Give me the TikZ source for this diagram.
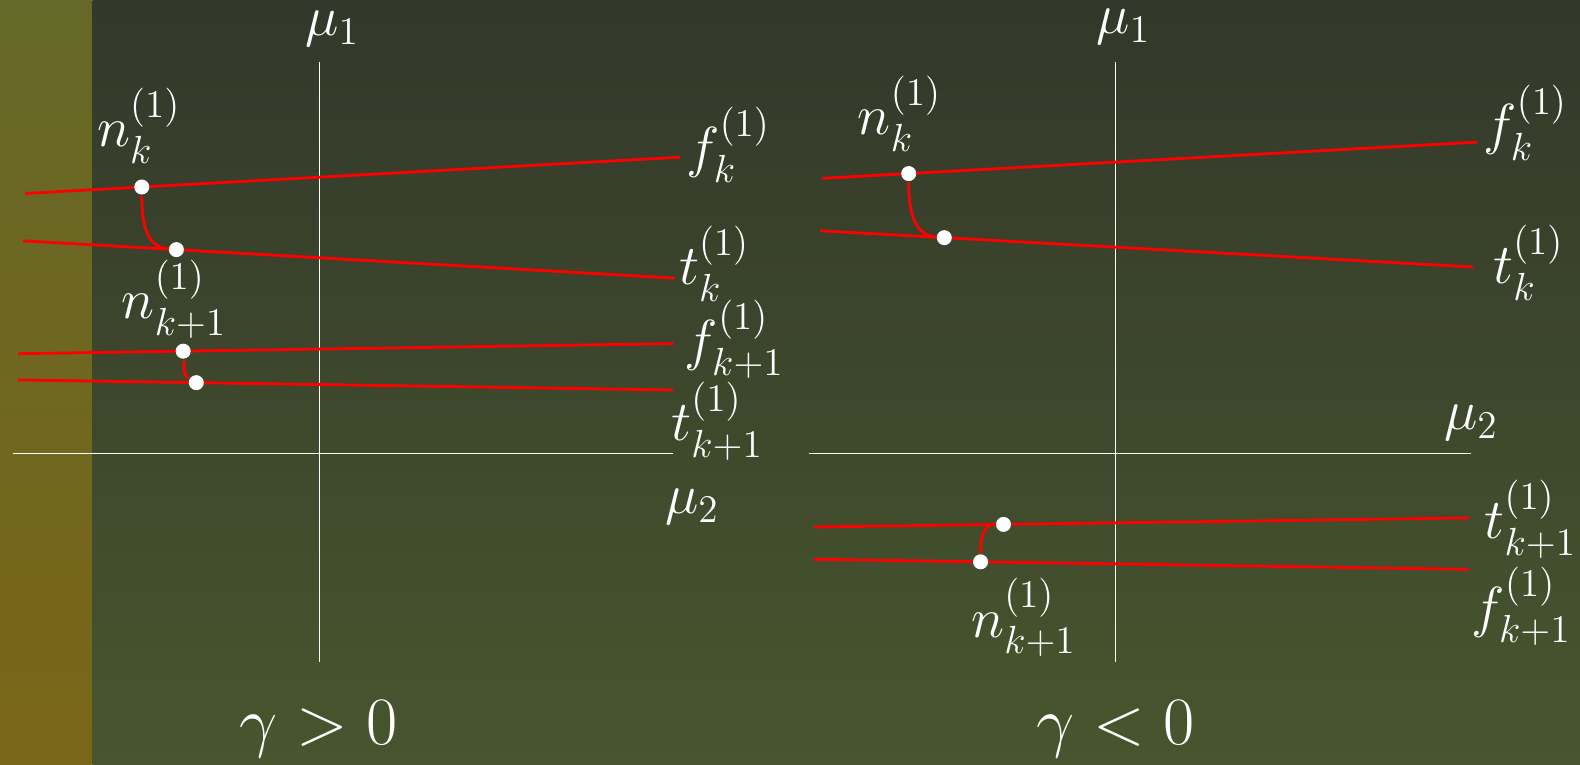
\documentclass[tikz,border=0pt]{standalone}
\usepackage{amsmath,amssymb}
\usepackage{tikz}
\usepackage{xcolor}
\definecolor{stripTop}{HTML}{656828}
\definecolor{stripBot}{HTML}{7A6618}
\definecolor{bgTop}{HTML}{33382A}
\definecolor{bgBot}{HTML}{47562E}

\begin{document}
\begin{tikzpicture}[x=1.00765cm,y=1.00765cm,
  axis/.style={white,line width=0.4pt},
  branch/.style={red,line width=0.8pt},
  dot/.style={circle,fill=white,inner sep=0pt,minimum size=0.15cm},
  lab/.style={text=white,font=\LARGE,scale=0.93},
  cond/.style={text=white,font=\huge,scale=0.93}]
\useasboundingbox (0,0) rectangle (15.68,-7.582);
\shade[top color=stripTop,bottom color=stripBot] (0,0) rectangle (0.92,-7.582);
\shade[top color=bgTop,bottom color=bgBot] (0.92,0) rectangle (15.68,-7.582);
\coordinate (lv1) at (3.17,-0.62);
\coordinate (lv2) at (3.17,-6.57);
\coordinate (lh1) at (0.13,-4.5);
\coordinate (lh2) at (6.68,-4.5);
\draw[axis] (lv1) -- (lv2);
\draw[axis] (lh1) -- (lh2);
\node[lab] (lmu1) at (3.30,-0.29) {$\mu_1$};
\node[lab] (lmu2) at (6.87,-5.03) {$\mu_2$};
\coordinate (lf1) at (0.25,-1.92);
\coordinate (lf2) at (6.75,-1.56);
\coordinate (lt1) at (0.23,-2.39);
\coordinate (lt2) at (6.70,-2.76);
\coordinate (lg1) at (0.18,-3.51);
\coordinate (lg2) at (6.68,-3.41);
\coordinate (ls1) at (0.18,-3.77);
\coordinate (ls2) at (6.68,-3.87);
\draw[branch] (lf1) -- (lf2) node[dot,pos=0.178] (lnk) {};
\draw[branch] (lt1) -- (lt2) node[dot,pos=0.235] (lnkb) {};
\draw[branch] (lg1) -- (lg2) node[dot,pos=0.252] (lnn) {};
\draw[branch] (ls1) -- (ls2) node[dot,pos=0.272] (lnnb) {};
\draw[branch] (lnk) to[out=-90,in=175] (lnkb);
\draw[branch] (lnn) to[out=-85,in=150] (lnnb);
\node[lab] (lfk) at (7.23,-1.44) {$f_k^{(1)}$};
\node[lab] (ltk) at (7.09,-2.62) {$t_k^{(1)}$};
\node[lab] (lfn) at (7.29,-3.37) {$f_{k+1}^{(1)}$};
\node[lab] (ltn) at (7.12,-4.18) {$t_{k+1}^{(1)}$};
\node[lab] (lnklab) at (1.38,-1.25) {$n_k^{(1)}$};
\node[lab] (lnnlab) at (1.73,-2.97) {$n_{k+1}^{(1)}$};
\node[cond] (lgam) at (3.16,-7.24) {$\gamma>0$};
\coordinate (rv1) at (11.07,-0.62);
\coordinate (rv2) at (11.07,-6.57);
\coordinate (rh1) at (8.03,-4.5);
\coordinate (rh2) at (14.60,-4.5);
\draw[axis] (rv1) -- (rv2);
\draw[axis] (rh1) -- (rh2);
\node[lab] (rmu1) at (11.15,-0.27) {$\mu_1$};
\node[lab] (rmu2) at (14.60,-4.20) {$\mu_2$};
\coordinate (rf1) at (8.16,-1.77);
\coordinate (rf2) at (14.66,-1.41);
\coordinate (rt1) at (8.14,-2.29);
\coordinate (rt2) at (14.62,-2.65);
\coordinate (rs1) at (8.08,-5.23);
\coordinate (rs2) at (14.58,-5.14);
\coordinate (rg1) at (8.08,-5.55);
\coordinate (rg2) at (14.58,-5.65);
\draw[branch] (rf1) -- (rf2) node[dot,pos=0.132] (rnk) {};
\draw[branch] (rt1) -- (rt2) node[dot,pos=0.19] (rnkb) {};
\draw[branch] (rs1) -- (rs2) node[dot,pos=0.289] (rnnb) {};
\draw[branch] (rg1) -- (rg2) node[dot,pos=0.254] (rnn) {};
\draw[branch] (rnk) to[out=-90,in=175] (rnkb);
\draw[branch] (rnn) to[out=90,in=180] (rnnb);
\node[lab] (rfk) at (15.14,-1.22) {$f_k^{(1)}$};
\node[lab] (rtk) at (15.17,-2.61) {$t_k^{(1)}$};
\node[lab] (rtn) at (15.19,-5.15) {$t_{k+1}^{(1)}$};
\node[lab] (rfn) at (15.10,-6.02) {$f_{k+1}^{(1)}$};
\node[lab] (rnklab) at (8.93,-1.13) {$n_k^{(1)}$};
\node[lab] (rnnlab) at (10.16,-6.13) {$n_{k+1}^{(1)}$};
\node[cond] (rgam) at (11.07,-7.24) {$\gamma<0$};
\end{tikzpicture}
\end{document}
